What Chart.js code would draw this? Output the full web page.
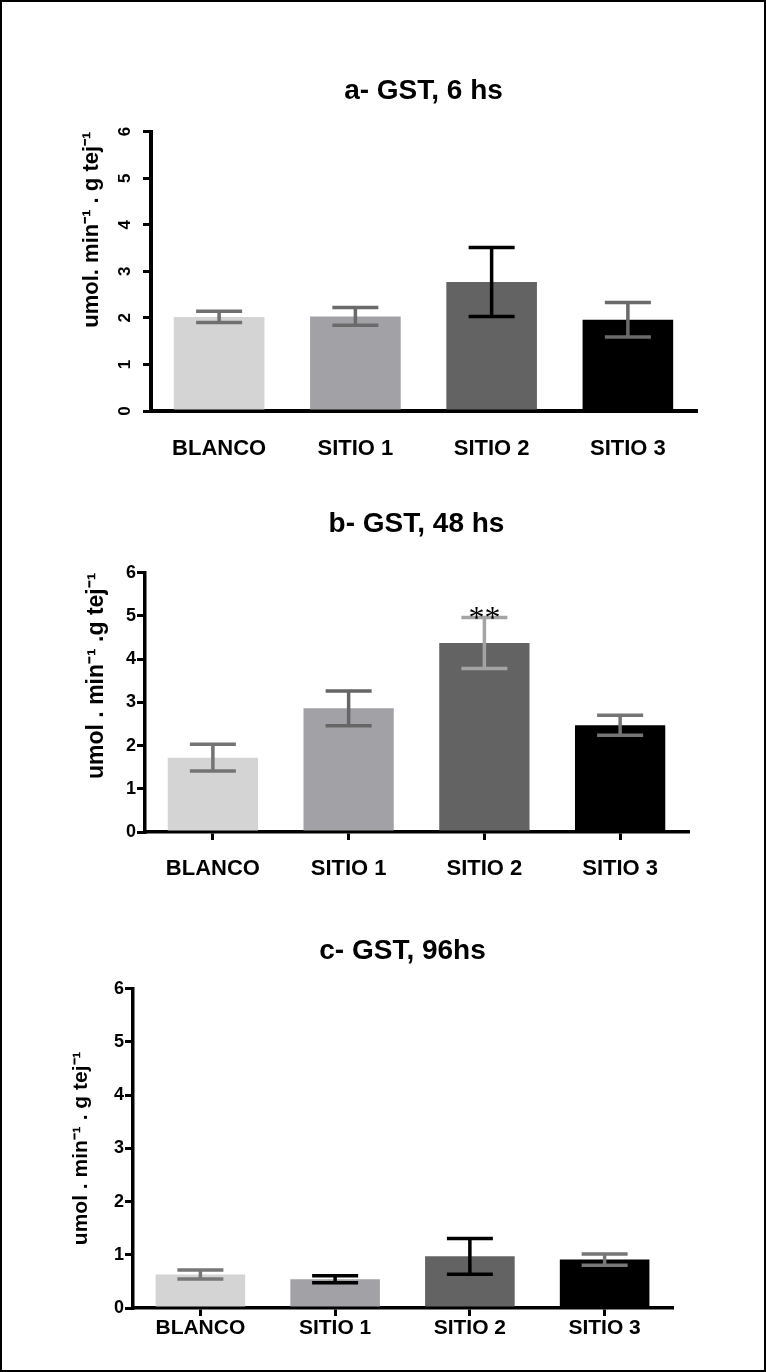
<!DOCTYPE html>
<html>
<head>
<meta charset="utf-8">
<script src="https://cdn.jsdelivr.net/npm/chart.js@4.4.1/dist/chart.umd.min.js"></script>
<style>
  body { margin: 0; background: #fff; }
  #frame { position: absolute; left: 0; top: 0; width: 766px; height: 1372px; box-sizing: border-box; border: 2px solid #000; }
  canvas { position: absolute; left: 0; }
</style>
</head>
<body>
<div id="frame"></div>
<canvas id="gst-6" width="766" height="480" style="top:0px"></canvas>
<canvas id="gst-48" width="766" height="420" style="top:480px"></canvas>
<canvas id="gst-96" width="766" height="470" style="top:900px"></canvas>
<script>
// sites
const categories = ['BLANCO', 'SITIO 1', 'SITIO 2', 'SITIO 3'];

// a- 6 hs
const gst6Means = [2.02, 2.03, 2.77, 1.96];
const gst6Errors = [0.12, 0.19, 0.74, 0.37];

// b- 48 hs
const gst48Means = [1.72, 2.86, 4.37, 2.47];
const gst48Errors = [0.31, 0.40, 0.59, 0.23];
const gst48Marks = ['', '', '**', ''];

// c- 96 hs
const gst96Means = [0.63, 0.54, 0.97, 0.91];
const gst96Errors = [0.085, 0.065, 0.335, 0.105];

const yMin = 0;
const yMax = 6;
const yStep = 1;

const barColors = ['#d4d4d4', '#a2a1a6', '#636363', '#000000'];

Chart.defaults.font.family = '"Liberation Sans", Arial, sans-serif';
Chart.defaults.font.weight = 'bold';
Chart.defaults.color = '#000';

// mean +/- error drawn through the chart scales
const errorBars = {
  id: 'errorBars',
  afterDatasetsDraw(chart, args, opts) {
    const { ctx, scales: { x, y } } = chart;
    const means = chart.data.datasets[0].data;
    ctx.save();
    ctx.lineWidth = 3.5;
    means.forEach((m, i) => {
      const e = opts.errors[i];
      const px = x.getPixelForValue(i);
      const top = y.getPixelForValue(m + e);
      const bot = y.getPixelForValue(m - e);
      ctx.strokeStyle = opts.colors[i];
      ctx.beginPath();
      ctx.moveTo(px, top); ctx.lineTo(px, bot);
      ctx.moveTo(px - 23, top); ctx.lineTo(px + 23, top);
      ctx.moveTo(px - 23, bot); ctx.lineTo(px + 23, bot);
      ctx.stroke();
      const mark = (opts.marks || [])[i];
      if (mark) {
        ctx.fillStyle = '#000';
        ctx.font = '32px "Liberation Serif", serif';
        ctx.textAlign = 'center';
        ctx.textBaseline = 'alphabetic';
        ctx.fillText(mark, px, top + 10);
      }
    });
    ctx.restore();
  }
};

const gstChart = (id, c) => {
  const ctx = document.getElementById(id).getContext('2d');
  return new Chart(ctx, {
    type: 'bar',
    data: {
      labels: categories,
      datasets: [{
        data: c.means,
        backgroundColor: barColors,
        borderWidth: 0,
        categoryPercentage: 1,
        barPercentage: 0.665
      }]
    },
    options: {
      responsive: false,
      animation: false,
      layout: { padding: c.padding },
      plugins: {
        legend: { display: false },
        tooltip: { enabled: false },
        title: {
          display: true,
          text: c.title,
          fullSize: false,
          font: { size: 28, weight: 'bold' },
          padding: { top: 0, bottom: c.titleGap }
        },
        errorBars: { errors: c.errors, colors: c.errorColors, marks: c.marks }
      },
      scales: {
        x: {
          afterFit: (s) => { s.height = c.xHeight; },
          grid: {
            display: c.xTicks,
            drawOnChartArea: false,
            drawTicks: c.xTicks,
            offset: false,
            tickLength: 8,
            lineWidth: 3,
            color: '#000'
          },
          border: { display: true, color: '#000', width: c.axisWidth },
          ticks: { font: { size: c.labelSize, weight: 'bold' }, padding: c.labelPad, maxRotation: 0 }
        },
        y: {
          min: yMin,
          max: yMax,
          afterFit: (s) => { s.width = c.yWidth; },
          grid: {
            drawOnChartArea: false,
            drawTicks: true,
            tickLength: 8,
            lineWidth: 3,
            color: '#000'
          },
          border: { display: true, color: '#000', width: c.axisWidth },
          ticks: Object.assign({ stepSize: yStep, font: { size: c.tickSize, weight: 'bold' }, padding: c.tickPad }, c.tickRot),
          title: {
            display: true,
            text: c.yTitle,
            align: c.yTitleAlign,
            font: { size: c.yTitleSize, weight: 'bold' },
            padding: 0
          }
        }
      }
    },
    plugins: [errorBars]
  });
};

gstChart('gst-6', {
  title: 'a- GST, 6 hs',
  yTitle: 'umol. min⁻¹ . g tej⁻¹',
  yTitleAlign: 'end',
  yTitleSize: 22,
  means: gst6Means,
  errors: gst6Errors,
  errorColors: ['#707070', '#6a6a6a', '#000000', '#6a6a6a'],
  padding: { left: 79, right: 70, top: 74, bottom: 0 },
  titleGap: 24,
  yWidth: 72,
  xHeight: 69,
  xTicks: false,
  axisWidth: 4,
  labelSize: 22,
  labelPad: 25,
  tickSize: 17,
  tickPad: 13,
  tickRot: { minRotation: 90, maxRotation: 90, crossAlign: 'center' }
});

gstChart('gst-48', {
  title: 'b- GST, 48 hs',
  yTitle: 'umol . min⁻¹ .g tej⁻¹',
  yTitleAlign: 'end',
  yTitleSize: 23,
  means: gst48Means,
  errors: gst48Errors,
  marks: gst48Marks,
  errorColors: ['#747474', '#666666', '#a4a4a4', '#747474'],
  padding: { left: 83, right: 78, top: 27, bottom: 0 },
  titleGap: 32,
  yWidth: 62,
  xHeight: 68,
  xTicks: true,
  axisWidth: 3.5,
  labelSize: 22,
  labelPad: 16,
  tickSize: 18,
  tickPad: 1,
  tickRot: {}
});

gstChart('gst-96', {
  title: 'c- GST, 96hs',
  yTitle: 'umol . min⁻¹ . g tej⁻¹',
  yTitleAlign: 'center',
  yTitleSize: 21,
  means: gst96Means,
  errors: gst96Errors,
  errorColors: ['#777777', '#000000', '#000000', '#777777'],
  padding: { left: 69, right: 94, top: 34, bottom: 0 },
  titleGap: 21,
  yWidth: 64,
  xHeight: 62,
  xTicks: true,
  axisWidth: 3.5,
  labelSize: 21,
  labelPad: 0,
  tickSize: 18,
  tickPad: 1,
  tickRot: {}
});
</script>
</body>
</html>
